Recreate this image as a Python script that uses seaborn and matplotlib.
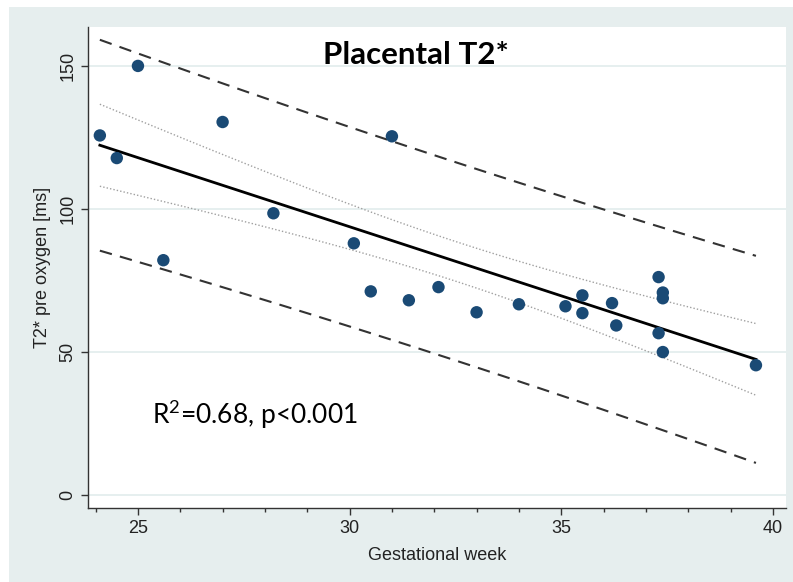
import numpy as np
import pandas as pd
import seaborn as sns
import matplotlib
matplotlib.use("Agg")
import matplotlib.pyplot as plt
from matplotlib.patches import Rectangle
from matplotlib.ticker import MultipleLocator

# ---- data ----
gest_week = [24.1, 24.5, 25.0, 25.6, 27.0, 28.2, 30.1, 30.5, 31.0, 31.4, 32.1, 33.0,
             34.0, 35.1, 35.5, 35.5, 36.2, 36.3, 37.3, 37.4, 37.4, 37.3, 37.4, 39.6]
t2_pre = [125.7, 117.8, 150.0, 82.1, 130.4, 98.5, 88.0, 71.2, 125.4, 68.1, 72.7, 63.9,
          66.7, 66.0, 69.8, 63.6, 67.1, 59.3, 76.2, 70.8, 68.8, 56.6, 50.0, 45.4]
x_ticks = [25, 30, 35, 40]
y_ticks = [0, 50, 100, 150]
title_text = "Placental T2*"
stat_text = r"$\mathregular{R^2}$=0.68, p<0.001"
x_label = "Gestational week"
y_label = "T2* pre oxygen [ms]"
T_CRIT = 2.0739  # t(0.975, df=22)

df = pd.DataFrame({"week": gest_week, "t2": t2_pre})

# ---- regression with confidence and prediction bands ----
x = np.asarray(gest_week)
y = np.asarray(t2_pre)
n = len(x)
b1, b0 = np.polyfit(x, y, 1)
resid = y - (b0 + b1 * x)
s = np.sqrt(np.sum(resid ** 2) / (n - 2))
sxx = np.sum((x - x.mean()) ** 2)
xs = np.linspace(x.min(), x.max(), 100)
yhat = b0 + b1 * xs
se_mean = s * np.sqrt(1 / n + (xs - x.mean()) ** 2 / sxx)
se_pred = s * np.sqrt(1 + 1 / n + (xs - x.mean()) ** 2 / sxx)
band = pd.DataFrame({
    "x": xs, "fit": yhat,
    "ci_lo": yhat - T_CRIT * se_mean, "ci_hi": yhat + T_CRIT * se_mean,
    "pi_lo": yhat - T_CRIT * se_pred, "pi_hi": yhat + T_CRIT * se_pred,
})

# ---- figure ----
plt.rcParams["font.family"] = ["Liberation Sans", "DejaVu Sans"]
plt.rcParams["mathtext.fontset"] = "custom"
plt.rcParams["mathtext.rm"] = "Lato"

W, H = 793, 582
fig = plt.figure(figsize=(W / 100, H / 100), dpi=100, facecolor="white")
fig.patches.append(Rectangle((9 / W, 0), 1 - 9 / W, 1 - 7 / H, transform=fig.transFigure,
                             facecolor="#e6eeee", edgecolor="none", zorder=-10))
ax = fig.add_axes([88 / W, 1 - 508 / H, (786 - 88) / W, (508 - 27) / H])
ax.set_facecolor("white")

for yv in y_ticks:
    ax.axhline(yv, color="#e1ecec", lw=1.2, zorder=0)

sns.lineplot(data=band, x="x", y="pi_hi", ax=ax, color="#333333", lw=1.5,
             linestyle=(0, (6, 4)), zorder=2)
sns.lineplot(data=band, x="x", y="pi_lo", ax=ax, color="#333333", lw=1.5,
             linestyle=(0, (6, 4)), zorder=2)
sns.lineplot(data=band, x="x", y="ci_hi", ax=ax, color="#a0a0a0", lw=1.0,
             linestyle=(0, (1, 1.5)), zorder=2)
sns.lineplot(data=band, x="x", y="ci_lo", ax=ax, color="#a0a0a0", lw=1.0,
             linestyle=(0, (1, 1.5)), zorder=2)
sns.lineplot(data=band, x="x", y="fit", ax=ax, color="black", lw=2.0, zorder=3)
sns.scatterplot(data=df, x="week", y="t2", ax=ax, color="#1a4a75", s=80,
                edgecolor="none", zorder=4)

ax.set_xlim(23.82, 40.31)
ax.set_ylim(-4.5, 163.6)
ax.set_xticks(x_ticks)
ax.set_yticks(y_ticks)
ax.xaxis.set_minor_locator(MultipleLocator(1))
for sp in ["top", "right"]:
    ax.spines[sp].set_visible(False)
for sp in ["left", "bottom"]:
    ax.spines[sp].set_color("#333333")
    ax.spines[sp].set_linewidth(1.0)
ax.tick_params(axis="both", which="major", direction="out", length=5, width=1,
               color="#333333", labelsize=13, labelcolor="#222222")
ax.tick_params(axis="x", which="minor", direction="out", length=3, width=1, color="#333333")
for lab in ax.get_yticklabels():
    lab.set_rotation(90)
    lab.set_va("center")
ax.set_xlabel(x_label, fontsize=13, color="#222222", labelpad=7)
ax.set_ylabel(y_label, fontsize=13, color="#222222", labelpad=6)

ax.text(0.47, 0.942, title_text, transform=ax.transAxes, ha="center", va="center",
        fontsize=22.5, fontweight="bold", family=["Lato", "DejaVu Sans"], color="black")
ax.text(25.33, 24.8, stat_text, ha="left", va="baseline", fontsize=19,
        family=["Lato", "DejaVu Sans"], color="black")

fig.savefig("out.png", dpi=100)
